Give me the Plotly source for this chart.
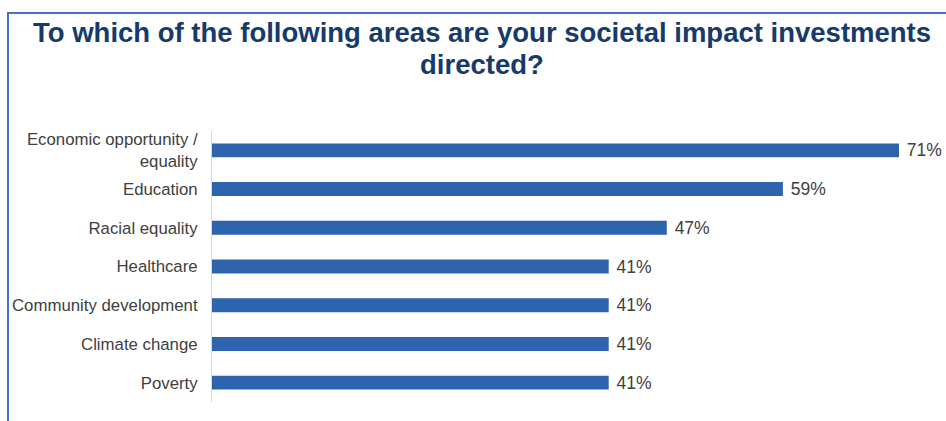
import plotly.graph_objects as go

# Survey results: share of respondents directing societal impact investments to each area
categories = [
    "Economic opportunity /<br>equality",
    "Education",
    "Racial equality",
    "Healthcare",
    "Community development",
    "Climate change",
    "Poverty",
]
values = [71, 59, 47, 41, 41, 41, 41]

title_lines = [
    "To which of the following areas are your societal impact investments",
    "directed?",
]

W, H = 946, 421
L, R, T, B = 212, 6, 131, 19
plot_w = W - L - R
plot_h = H - T - B


def px_x(x):
    return (x - L) / plot_w


def px_y(y):
    return (H - B - y) / plot_h


fig = go.Figure(
    go.Bar(
        x=values,
        y=categories,
        orientation="h",
        width=0.36,
        marker=dict(color="#2E63AD", line=dict(width=0)),
        texttemplate="\u00a0%{x}%",
        textposition="outside",
        constraintext="none",
        cliponaxis=False,
        textfont=dict(family="Liberation Sans, Arial", size=17.5, color="#404040"),
    )
)

frame_color = "#4472C4"
title_font = dict(family="Liberation Sans, Arial", size=27.5, color="#173A6B")

fig.update_layout(
    width=W,
    height=H,
    margin=dict(l=L, r=R, t=T, b=B, pad=0),
    paper_bgcolor="white",
    plot_bgcolor="white",
    showlegend=False,
    font=dict(family="Liberation Sans, Arial", color="#404040"),
    xaxis=dict(
        range=[0, plot_w / ((899 - 212) / 71)],
        visible=False,
        fixedrange=True,
    ),
    yaxis=dict(
        autorange="reversed",
        showline=True,
        linecolor="#D9D9D9",
        linewidth=1,
        showgrid=False,
        ticks="",
        ticklabelstandoff=10,
        tickfont=dict(family="Liberation Sans, Arial", size=16.8, color="#404040"),
    ),
    annotations=[
        dict(
            text="<b>" + line + "</b>",
            xref="paper",
            yref="paper",
            x=px_x(482),
            y=px_y(yc),
            xanchor="center",
            yanchor="middle",
            showarrow=False,
            font=title_font,
        )
        for line, yc in zip(title_lines, [32, 64])
    ],
    shapes=[
        dict(type="line", xref="paper", yref="paper",
             x0=px_x(7), x1=px_x(W), y0=px_y(13), y1=px_y(13),
             line=dict(color=frame_color, width=2)),
        dict(type="line", xref="paper", yref="paper",
             x0=px_x(8), x1=px_x(8), y0=px_y(13), y1=px_y(H),
             line=dict(color=frame_color, width=2)),
    ],
)

fig.write_html("out.html")
